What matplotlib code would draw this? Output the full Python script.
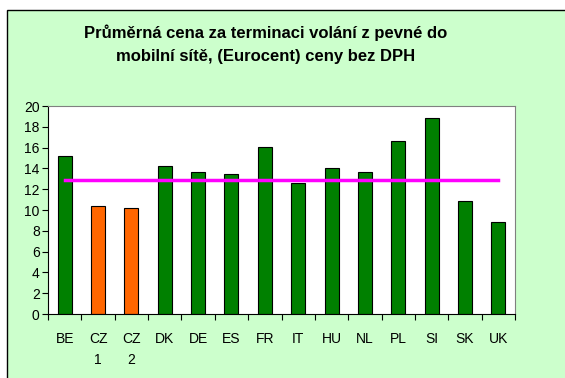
import matplotlib.pyplot as plt
from matplotlib.patches import Rectangle
import numpy as np

# Data
countries = ["BE", "CZ\n1", "CZ\n2", "DK", "DE", "ES", "FR", "IT", "HU", "NL", "PL", "SI", "SK", "UK"]
prices = [15.2, 10.4, 10.2, 14.2, 13.7, 13.5, 16.1, 12.6, 14.0, 13.7, 16.6, 18.8, 10.9, 8.8]
average = 12.9
highlight = ["CZ\n1", "CZ\n2"]

GREEN = "#008000"
ORANGE = "#FF6600"
MAGENTA = "#FF00FF"
BG = "#CCFFCC"

plt.rcParams["font.family"] = ["Liberation Sans", "DejaVu Sans"]

W, H = 565, 378
fig = plt.figure(figsize=(W / 100, H / 100), dpi=100)
fig.patch.set_facecolor("white")

# chart area frame, kept behind the axes
fig.patches.append(Rectangle((7 / W, -0.1), 1.2, 1 - 10 / H + 0.1,
                             transform=fig.transFigure, facecolor=BG,
                             edgecolor="black", linewidth=1.0, zorder=-5))

ax = fig.add_axes([48 / W, 1 - 314 / H, (515 - 48) / W, (314 - 106) / H])
ax.set_facecolor("white")

x = np.arange(len(countries))
colors = [ORANGE if c in highlight else GREEN for c in countries]
ax.bar(x, prices, width=0.42, color=colors, edgecolor="black", linewidth=0.8, zorder=2)
ax.plot(x, [average] * len(x), color=MAGENTA, linewidth=2.5, zorder=3)

ax.set_xlim(-0.5, len(x) - 0.5)
ax.set_ylim(0, 20)
ax.set_yticks(range(0, 21, 2))
ax.tick_params(axis="y", labelsize=10, length=4, width=0.8, direction="out", pad=2)

# category labels centred, ticks between categories
ax.set_xticks(x)
ax.set_xticklabels(countries, fontsize=10, linespacing=1.6)
ax.tick_params(axis="x", length=0, pad=13)
ax.set_xticks(np.arange(-0.5, len(x), 1), minor=True)
ax.tick_params(axis="x", which="minor", length=4, width=0.8, direction="out")

for s in ["top", "right"]:
    ax.spines[s].set_color("#808080")
ax.spines["left"].set_color("black")
ax.spines["bottom"].set_color("black")

fig.text(266 / W, 1 - 33 / H, "Průměrná cena za terminaci volání z pevné do",
         ha="center", va="center", fontsize=12, fontweight="bold")
fig.text(266 / W, 1 - 57 / H, "mobilní sítě, (Eurocent) ceny bez DPH",
         ha="center", va="center", fontsize=12, fontweight="bold")

fig.savefig("out.png", dpi=100, facecolor=fig.get_facecolor())
